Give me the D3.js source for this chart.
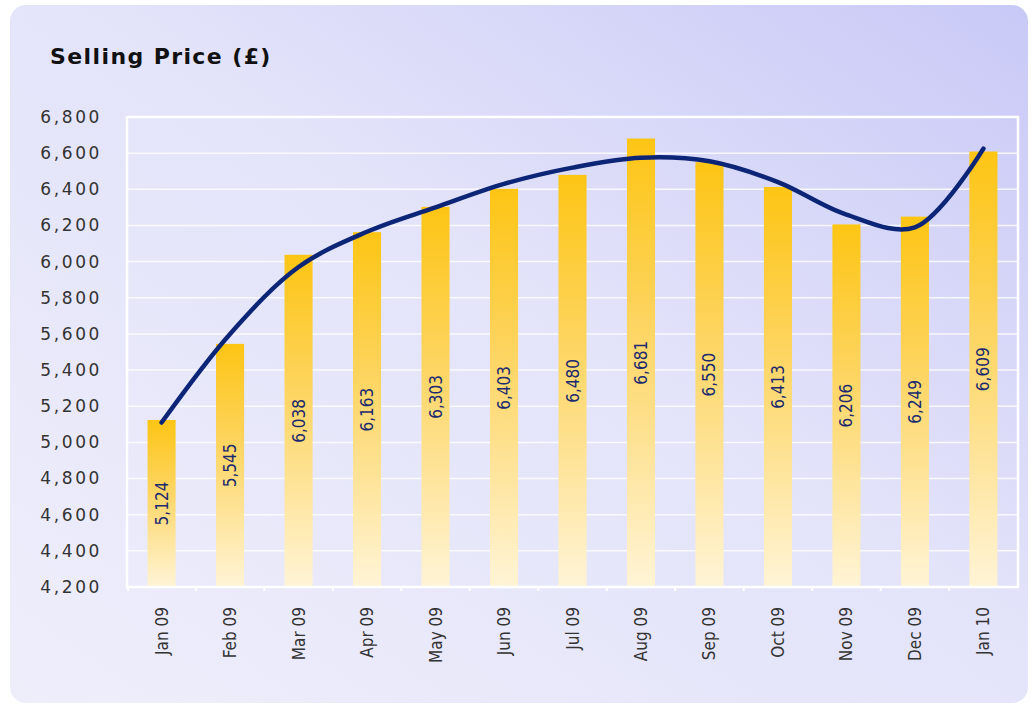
<!DOCTYPE html>
<html>
<head>
<meta charset="utf-8">
<script src="https://d3js.org/d3.v7.min.js"></script>
<style>
    html, body { margin: 0; padding: 0; background: #ffffff; }
    #chart { width: 1036px; height: 706px; }
    .ylab { font-family: "DejaVu Sans", Verdana, sans-serif; font-size: 17px; letter-spacing: 2.6px; fill: #333; }
    .xlab, .vlab { font-family: "Liberation Sans Narrow", "DejaVu Sans Condensed", sans-serif; font-stretch: condensed; font-size: 17px; }
</style>
</head>
<body>
<div id="chart"></div>
<script>
// Chart data
const months = ["Jan 09", "Feb 09", "Mar 09", "Apr 09", "May 09", "Jun 09", "Jul 09",
                "Aug 09", "Sep 09", "Oct 09", "Nov 09", "Dec 09", "Jan 10"];
const prices = [5124, 5545, 6038, 6163, 6303, 6403, 6480, 6681, 6550, 6413, 6206, 6249, 6609];
// trend line at each month
const trend = [5110, 5600, 5970, 6165, 6300, 6430, 6520, 6575, 6555, 6440, 6260, 6190, 6625];
const yTicks = [4200, 4400, 4600, 4800, 5000, 5200, 5400, 5600, 5800, 6000, 6200, 6400, 6600, 6800];

(function() {
    const width = 1036, height = 706;
    const plot = {left: 127, right: 1018, top: 117, bottom: 587};

    const svg = d3.select('#chart').append('svg')
        .attr('width', width)
        .attr('height', height);

    const defs = svg.append('defs');

    const bg = defs.append('linearGradient').attr('id', 'bgGrad')
        .attr('x1', '0%').attr('y1', '100%').attr('x2', '100%').attr('y2', '0%');
    bg.append('stop').attr('offset', '0%').attr('stop-color', '#eeeefb');
    bg.append('stop').attr('offset', '55%').attr('stop-color', '#e3e3fa');
    bg.append('stop').attr('offset', '100%').attr('stop-color', '#c9c9f7');

    const barGrad = defs.append('linearGradient').attr('id', 'barGrad')
        .attr('x1', '0').attr('y1', '0').attr('x2', '0').attr('y2', '1');
    barGrad.append('stop').attr('offset', '0%').attr('stop-color', '#fdc514');
    barGrad.append('stop').attr('offset', '40%').attr('stop-color', '#fdd45e');
    barGrad.append('stop').attr('offset', '100%').attr('stop-color', '#fff4d6');

    // card background
    svg.append('rect')
        .attr('x', 10).attr('y', 5)
        .attr('width', 1018).attr('height', 698)
        .attr('rx', 16)
        .attr('fill', 'url(#bgGrad)');

    svg.append('text')
        .attr('x', 50).attr('y', 64)
        .style('font-family', '"DejaVu Sans", Verdana, sans-serif')
        .style('font-weight', 'bold')
        .style('font-size', '22px')
        .style('letter-spacing', '1.4px')
        .style('fill', '#111')
        .text('Selling Price (£)');

    const x = d3.scaleBand()
        .domain(months)
        .range([plot.left, plot.right])
        .paddingInner(0.59)
        .paddingOuter(0.3);

    const y = d3.scaleLinear()
        .domain([4200, 6800])
        .range([plot.bottom, plot.top]);

    // gridlines
    svg.append('g')
        .selectAll('line')
        .data(yTicks.slice(1, -1))
        .join('line')
        .attr('x1', plot.left).attr('x2', plot.right)
        .attr('y1', d => y(d)).attr('y2', d => y(d))
        .attr('stroke', '#ffffff')
        .attr('stroke-opacity', 0.8)
        .attr('stroke-width', 1.5);

    // bars
    svg.append('g')
        .selectAll('rect')
        .data(prices)
        .join('rect')
        .attr('x', (d, i) => x(months[i]))
        .attr('y', d => y(d))
        .attr('width', x.bandwidth())
        .attr('height', d => y(4200) - y(d))
        .attr('fill', 'url(#barGrad)');

    // plot border
    svg.append('rect')
        .attr('x', plot.left).attr('y', plot.top)
        .attr('width', plot.right - plot.left)
        .attr('height', plot.bottom - plot.top)
        .attr('fill', 'none')
        .attr('stroke', '#ffffff')
        .attr('stroke-width', 2.5);

    // y axis labels
    const yAxis = svg.append('g')
        .attr('transform', `translate(${plot.left},0)`)
        .call(d3.axisLeft(y).tickValues(yTicks).tickSize(0).tickPadding(25)
            .tickFormat(d3.format(',')));
    yAxis.select('.domain').remove();
    yAxis.selectAll('text').attr('class', 'ylab').attr('fill', null);

    // x axis
    const xAxis = svg.append('g')
        .attr('transform', `translate(0,${plot.bottom})`)
        .call(d3.axisBottom(x).tickSize(0).tickFormat(''));
    xAxis.select('.domain').remove();

    const sepTicks = months.slice(1).map((m, i) => (x(months[i]) + x.bandwidth() + x(m)) / 2);
    sepTicks.unshift(plot.left + 1);
    svg.append('g')
        .selectAll('line')
        .data(sepTicks)
        .join('line')
        .attr('x1', d => d).attr('x2', d => d)
        .attr('y1', plot.bottom).attr('y2', plot.bottom + 4)
        .attr('stroke', '#ffffff')
        .attr('stroke-width', 2);

    svg.append('g')
        .selectAll('text')
        .data(months)
        .join('text')
        .attr('class', 'xlab')
        .attr('transform', d => `translate(${x(d) + x.bandwidth() / 2 + 6},${plot.bottom + 20}) rotate(-90)`)
        .attr('text-anchor', 'end')
        .style('fill', '#333')
        .text(d => d);

    // value labels inside bars
    svg.append('g')
        .selectAll('text')
        .data(prices)
        .join('text')
        .attr('class', 'vlab')
        .attr('transform', (d, i) => `translate(${x(months[i]) + x.bandwidth() / 2 + 6},${(y(d) + y(4200)) / 2}) rotate(-90)`)
        .attr('text-anchor', 'middle')
        .style('fill', '#1b2a6e')
        .text(d => d3.format(',')(d));

    // trend line
    const line = d3.line()
        .x((d, i) => x(months[i]) + x.bandwidth() / 2)
        .y(d => y(d))
        .curve(d3.curveCatmullRom.alpha(0.5));

    svg.append('path')
        .datum(trend)
        .attr('d', line)
        .attr('fill', 'none')
        .attr('stroke', '#0c2577')
        .attr('stroke-width', 4.5)
        .attr('stroke-linecap', 'round');
})();
</script>
</body>
</html>
